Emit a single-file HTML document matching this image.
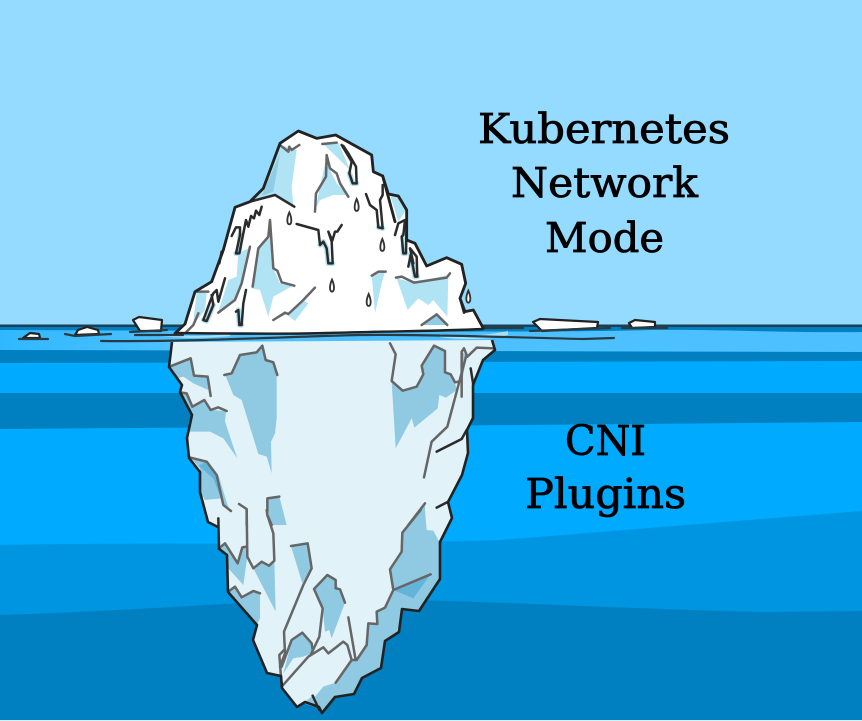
<!DOCTYPE html>
<html><head><meta charset="utf-8"><style>
html,body{margin:0;padding:0;background:#94DBFF}
svg{display:block}
text{font-family:"DejaVu Serif","Liberation Serif",serif;fill:#000;stroke:#000;stroke-width:.8px;font-size:41px}
.o{stroke:#222;stroke-width:8.5;fill:none;stroke-linejoin:round;stroke-linecap:round}
.d{stroke:#2b2b2b;stroke-width:7.5;fill:none;stroke-linejoin:round;stroke-linecap:round}
.h{stroke:#B0E3F3;stroke-width:16;fill:none;stroke-linejoin:round;stroke-linecap:round}
.g{stroke:#666;stroke-width:7.5;fill:none;stroke-linejoin:round;stroke-linecap:round}
.a{fill:#B0E3F3}.a2{fill:#8FCDE6}
.b{fill:#8FCAE2}.b2{fill:#62B4DA}
.l{stroke:#2a3a44;stroke-width:2.2;fill:none;stroke-linecap:round}
.s{fill:#fff;stroke:#222;stroke-width:2.2;stroke-linejoin:round}
</style></head><body>
<svg width="862" height="721" viewBox="0 0 862 721" xmlns="http://www.w3.org/2000/svg">
<defs><linearGradient id="w" x1="0" x2="1" y1="0" y2="0"><stop offset="0" stop-color="#30B8FF"/><stop offset=".2" stop-color="#4DC1FF"/></linearGradient></defs>
<rect width="862" height="721" fill="#94DBFF"/>
<rect y="325" width="862" height="396" fill="url(#w)"/>
<path d="M0,326H862V332C780,333 720,329 650,330 560,333 300,331 0,330Z" fill="#0080C0"/>
<path d="M0,350 L862,352 V721 H0Z" fill="#0080C0"/>
<path d="M0,363 L862,361 V721 H0Z" fill="#00AAFF"/>
<path d="M0,393 H862 V422 L400,426 0,429Z" fill="#0080C0"/>
<path d="M0,545 C130,542 300,546 500,540 L862,511 V721 H0Z" fill="#0095E0"/>
<path d="M0,615 C100,612 180,606 300,600 C440,597 560,607 760,612 L862,611 V721 H0Z" fill="#0080C0"/>
<rect y="720" width="862" height="1" fill="#d8eef8"/>
<rect y="324.500" width="862" height="2.500" fill="#1d3f55"/>
<path d="M175,333 H490 V341 H170Z" fill="#4DC1FF"/>
<path d="M440,334 C460,337 485,336 508,331 L508,335 C490,340 460,340 440,337Z" fill="#A8E0FA"/>
<path d="M160,334 C190,337 210,336 230,334 L230,336 C200,339 180,338 160,336Z" fill="#A8E0FA"/>

<!-- small floes -->
<path class="s" d="M23,338 L30,333 39,334 40,338Z"/>
<path class="s" d="M75,335 L78,330 87,327 98,330 99,334Z"/>
<path class="s" d="M133,320 L139,317 162,320 161,331 140,331Z"/>
<path class="s" d="M533,322 L540,319 598,322 597,328 542,331Z"/>
<path class="s" d="M629,323 L635,320 655,322 655,327 632,328Z"/>
<path class="l" d="M19,339H48M65,334L75,336 111,334M130,332L167,330M135,335H183M530,331L610,328M622,328L667,328M470,328L523,328"/>
<path class="l" d="M101,341 C200,342 300,336 360,335 C430,334 530,338 583,339 L614,338"/>

<!-- lower iceberg -->
<path d="M172,342 L169,367 182,385 180,392 192,415 187,438 189,458 200,472 200,492 208,522 218,527 218,548 227,555 228,592 257,625 253,640 267,673 281,676 282,688 297,707 305,702 319,707 322,713 335,697 354,694 362,678 381,668 385,641 399,632 402,609 419,611 440,579 440,542 452,518 448,502 462,475 468,453 467,430 473,418 473,385 483,360 495,350 492,340Z" fill="#E2F2F9"/>
<g transform="translate(160,335) scale(.33333)">
<path class="b" d="M30,95L92,70 100,122 142,125 145,165 100,145 70,125 50,130Z"/>
<path class="b" d="M60,172L80,175 95,215 133,195 152,225 198,228 195,260 215,320 232,370 190,310 150,290 85,290 95,240Z"/>
<path class="b" d="M195,118L218,113 240,60 290,52 307,32 317,75 340,82 350,118 350,250 345,295 333,320 335,415 320,365 295,357 245,195 220,180Z"/>
<path class="b" d="M695,140L728,167 770,155 790,118 785,92 822,32 855,48 855,112 872,118 885,142 890,165 858,188 838,180 833,220 763,278 755,250 707,340Z"/>
<path class="b" d="M905,50L920,60 905,150Z"/>
<path class="b" d="M90,367L120,400 120,470 135,495 185,490 190,510 210,533 175,420 140,380Z"/>
<path class="b2" d="M115,392L140,380 175,430 190,510 160,430Z"/>
<path class="b" d="M322,490L358,485 380,570 330,570Z"/>
<path class="b" d="M795,505L745,570 795,570Z"/>
<path class="g" d="M28,95L92,70 102,122 143,125 152,183"/>
<path class="g" d="M60,172L80,175 97,215 133,195 152,225 175,217 200,228"/>
<path class="g" d="M193,120L215,115 240,60 290,52 307,32 317,75 340,82 352,120"/>
<path class="g" d="M690,25L707,58 695,138 728,167 770,155 790,118 785,92 822,32 855,48 855,112 872,118 885,142 895,140"/>
<path class="g" d="M905,185L905,50 912,40 922,65 950,38 1000,40"/>
<path class="g" d="M918,65L890,170 862,275 815,320 792,427"/>
<path class="d" d="M830,350L905,312 920,285"/>
<path class="d" d="M932,100L940,150"/>
<path class="g" d="M88,367L140,380 170,420 190,510 213,528"/>
<path class="g" d="M358,485L322,490 322,540 335,570"/>
<path class="g" d="M237,507L260,522 260,570"/>
<path class="g" d="M795,505L745,570"/>
<path class="d" d="M830,518L865,500"/>
</g>
<g transform="translate(190,510) scale(.33333)">
<path class="b" d="M87,115L105,100 143,160 160,112 170,110 172,140 160,225 115,175 110,135Z"/>
<path class="b" d="M190,175L215,155 237,167 253,155 257,305Z"/>
<path class="b" d="M115,245L135,230 155,262 190,243 210,250 210,325 200,345Z"/>
<path class="b" d="M303,108L353,100 365,175 337,220Z"/>
<path class="b" d="M372,237L412,195 437,210 445,238 465,278 425,385 418,360 405,365 398,295Z"/>
<path class="b" d="M280,490L305,395 337,370 365,405 365,430 340,440 310,445Z"/>
<path class="b" d="M692,0L705,0 710,60 730,62 750,100 750,207 687,303 635,298 627,367 585,393 573,473 517,505 492,553 435,560 395,610 375,560 400,530 437,518 485,450 500,450 530,405 535,340 562,342 560,305 585,293 610,240 600,178 635,125 637,68Z"/>
<path class="b2" d="M610,240L720,195 670,265Z"/>
<path class="b" d="M340,580L368,557 388,595Z"/>
<path class="g" d="M87,115L105,100 143,160 157,112 170,110"/>
<path class="g" d="M170,0L172,140 190,175 215,155 237,167 253,152 250,70 232,15 230,0"/>
<path class="g" d="M115,245L135,230 155,262 190,243 210,250"/>
<path class="g" d="M303,108L353,100 365,175 340,225 282,365 285,430 270,470"/>
<path class="g" d="M268,435L282,420M268,435L275,530"/>
<path class="g" d="M465,278L450,238 437,235 437,210 412,195 372,237 398,295 388,380 362,435"/>
<path class="g" d="M275,470L305,390 337,368 365,400 368,420"/>
<path class="g" d="M275,530L355,440 400,412 415,430 460,395 472,405 485,450 500,450 530,405 535,340 562,342 560,305 585,293 610,240 600,178 635,125 637,68 692,0"/>
<path class="g" d="M610,240L722,193"/>
<path class="g" d="M437,518L485,450M475,322L497,450"/>
<path class="d" d="M85,25L87,115"/>
<path class="d" d="M368,557L388,600"/>
</g>
<path d="M172,342 L169,367 182,385 180,392 192,415 187,438 189,458 200,472 200,492 208,522 218,527 M218,548 L227,555 228,592 257,625 253,640 267,673 281,676 282,688 297,707 305,702 319,707 322,713 335,697 354,694 362,678 381,668 385,641 399,632 402,609 419,611 440,579 440,542 452,518 448,502 462,475 468,453 467,430 473,418 473,385 483,360 495,350 492,340" fill="none" stroke="#222" stroke-width="2.6" stroke-linejoin="round"/>

<!-- upper iceberg -->
<g transform="translate(160,120) scale(.33333)">
<path d="M45,640L75,612 105,515 155,485 190,390 225,262 270,245 310,205 360,70 415,33 470,55 527,45 635,105 640,155 668,168 685,222 715,228 740,270 740,360 765,370 800,438 860,413 905,433 917,490 900,535 915,575 940,570 970,625 700,632 500,640 250,636Z" fill="#fff"/>
<path class="a" d="M360,75L410,90 395,200 400,258 345,225 270,245 310,205Z"/>
<path class="a2" d="M360,100L340,215 305,228Z"/>
<path class="a" d="M500,110L465,270 480,240 520,225 565,225 530,190 510,150Z"/>
<path class="a" d="M490,72L535,68 590,195 570,150Z"/>
<path class="a" d="M690,225L715,230 738,270 715,305Z"/>
<path class="a" d="M330,300L325,350 295,380 275,505 300,510 325,590 340,530 400,497 360,490 340,445Z"/>
<path class="a" d="M265,385L235,400 230,470 205,480 175,575 225,540 245,490Z"/>
<path class="a" d="M110,515L140,520 135,570 80,640 100,610Z"/>
<path class="a" d="M635,465L675,455 665,490 645,580Z"/>
<path class="a" d="M710,475L760,488 865,465 862,590 820,540 805,555 775,535 743,570Z"/>
<path class="a2" d="M785,615L830,583 862,615Z"/>
<path class="a" d="M345,598L375,580 405,603 445,550 430,540 385,582Z"/>
<g class="h">
<path class="h" d="M480,375L490,365 500,385 505,430 518,430"/>
<path class="h" d="M240,345L238,400 228,400"/>
<path class="h" d="M130,600L140,603 160,555"/>
<path class="h" d="M245,615L238,615 235,570"/>
<path class="h" d="M568,160L578,190 590,190"/>
<path class="h" d="M655,322L668,325"/>
<path class="h" d="M730,345L730,400 738,400"/>
<path class="h" d="M752,405L765,470 772,470"/>
</g>
<path class="g" d="M360,75L385,95 388,80 395,90 418,75"/>
<path class="g" d="M465,275L468,220 498,170 500,105 510,145 530,160 540,190 565,230"/>
<path class="g" d="M487,72L530,68"/>
<path class="g" d="M278,500L295,385 325,350 330,300 340,445 352,452 365,487 403,497"/>
<path class="g" d="M270,380L245,490 225,540 175,578"/>
<path class="g" d="M635,467L655,455 677,455"/>
<path class="g" d="M708,473L725,470 762,488 860,473 870,460"/>
<path class="g" d="M785,615L830,583 862,615"/>
<path class="g" d="M340,600L375,578 385,582 430,540 465,503"/>
<path class="g" d="M145,515L110,515"/>
<path class="g" d="M115,580L100,615 75,640"/>
<path class="d" d="M270,245L345,225 403,260"/>
<path class="d" d="M410,312L475,330 480,375 490,365 500,385 505,430 518,430 515,365 505,335 517,362 525,335 532,335 545,315"/>
<path class="d" d="M305,260L298,285 288,272 282,295 273,288 265,320 258,300 248,350 238,400 228,400 240,345 240,322 228,322 215,348"/>
<path class="d" d="M545,75L575,125 568,160 578,190 590,190 588,140 565,100 550,78"/>
<path class="d" d="M618,222L630,255 650,270 655,322 668,325 660,240 668,225 668,195"/>
<path class="d" d="M705,345L715,310 735,300 730,345 725,350 730,400 738,400 740,310"/>
<path class="d" d="M745,440L752,405 765,470 772,470 770,410 750,385 760,430"/>
<path class="d" d="M185,395L178,430M195,475L185,510 175,545 170,510 160,520 150,545 130,600 140,603 160,555 155,525"/>
<path class="d" d="M258,510L250,550 245,615 238,615 235,570 228,575"/>
<path class="d" d="M900,535L912,578"/>
<path class="o" d="M45,640L75,612 105,515 155,485 190,390 225,262 270,245 310,205 360,70 415,33 470,55 527,45 635,105 640,155 668,168 685,222 715,228 740,270 740,360 765,370 800,438 860,413 905,433 917,490 900,535 915,575 940,570 970,625"/>
<path class="o" d="M668,168L705,305"/>
<g fill="#fff" stroke="#333" stroke-width="5.500">
<path d="M388,277C380,295 380,312 388,313 396,312 396,295 388,277Z"/>
<path d="M590,237C582,255 582,272 590,273 598,272 598,255 590,237Z"/>
<path d="M667,357C659,375 659,392 667,393 675,392 675,375 667,357Z"/>
<path d="M516,479C508,497 508,514 516,515 524,514 524,497 516,479Z"/>
<path d="M626,522C618,540 618,557 626,558 634,557 634,540 626,522Z"/>
<path d="M925,512C917,530 917,547 925,548 933,547 933,530 925,512Z"/>
</g>
</g>
<path d="M175,333 C260,334 300,334 327,333 C400,331 440,331 483,329" fill="none" stroke="#222" stroke-width="2.4"/>

<text x="478" y="143" textLength="252" lengthAdjust="spacingAndGlyphs">Kubernetes</text>
<text x="511" y="197" textLength="187" lengthAdjust="spacingAndGlyphs">Network</text>
<text x="545" y="252" textLength="119" lengthAdjust="spacingAndGlyphs">Mode</text>
<text x="565" y="455" textLength="81" lengthAdjust="spacingAndGlyphs">CNI</text>
<text x="525" y="508" textLength="161" lengthAdjust="spacingAndGlyphs">Plugins</text>
</svg>
</body></html>
